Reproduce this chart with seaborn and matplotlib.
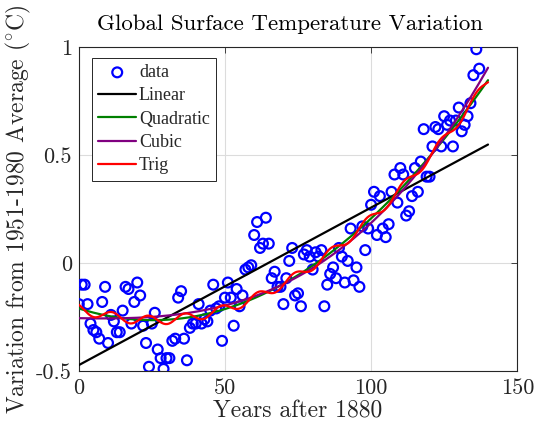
import numpy as np
import pandas as pd
import matplotlib
matplotlib.use("Agg")
import matplotlib.pyplot as plt
import seaborn as sns

# ---- data: years after 1880 and anomaly (deg C, vs 1951-1980 average) ----
years_after_1880 = list(range(0, 138))
anomaly = [
    -0.19, -0.10, -0.10, -0.19, -0.28, -0.31, -0.32, -0.35, -0.18, -0.11,
    -0.37, -0.24, -0.27, -0.32, -0.32, -0.22, -0.11, -0.12, -0.28, -0.18,
    -0.09, -0.15, -0.29, -0.37, -0.48, -0.28, -0.23, -0.40, -0.44, -0.49,
    -0.44, -0.44, -0.36, -0.35, -0.16, -0.13, -0.35, -0.45, -0.30, -0.28,
    -0.28, -0.19, -0.28, -0.26, -0.27, -0.22, -0.10, -0.21, -0.20, -0.36,
    -0.16, -0.09, -0.16, -0.29, -0.12, -0.20, -0.15, -0.03, -0.02, -0.01,
    0.13, 0.19, 0.07, 0.09, 0.21, 0.09, -0.07, -0.04, -0.11, -0.11,
    -0.19, -0.07, 0.01, 0.07, -0.15, -0.14, -0.20, 0.04, 0.06, 0.03,
    -0.03, 0.05, 0.03, 0.06, -0.20, -0.10, -0.05, -0.02, -0.07, 0.07,
    0.03, -0.09, 0.01, 0.16, -0.08, -0.02, -0.11, 0.17, 0.06, 0.16,
    0.27, 0.33, 0.13, 0.31, 0.16, 0.12, 0.18, 0.33, 0.41, 0.28,
    0.44, 0.41, 0.22, 0.24, 0.31, 0.44, 0.33, 0.47, 0.62, 0.40,
    0.40, 0.54, 0.63, 0.62, 0.54, 0.68, 0.64, 0.66, 0.54, 0.66,
    0.72, 0.61, 0.64, 0.68, 0.74, 0.87, 0.99, 0.90,
]
fit_range = [0, 140]
trig_period_range = [10.0, 12.5]   # search window for the trig term (years)
legend_labels = ["data", "Linear", "Quadratic", "Cubic", "Trig"]
x_ticks = [0, 50, 100, 150]
x_tick_labels = ["0", "50", "100", "150"]
y_ticks = [-0.5, 0, 0.5, 1]
y_tick_labels = ["-0.5", "0", "0.5", "1"]

# ---- fits computed from the data ----
x = np.array(years_after_1880, dtype=float)
y = np.array(anomaly, dtype=float)
xf = np.linspace(fit_range[0], fit_range[1], 500)
lin = np.polyval(np.polyfit(x, y, 1), xf)
quad = np.polyval(np.polyfit(x, y, 2), xf)
cub = np.polyval(np.polyfit(x, y, 3), xf)

def trig_basis(t, P):
    w = 2 * np.pi / P
    return np.column_stack([np.ones_like(t), t, t**2, np.sin(w*t), np.cos(w*t)])

best = None
for P in np.arange(trig_period_range[0], trig_period_range[1], 0.02):
    A = trig_basis(x, P)
    c, *_ = np.linalg.lstsq(A, y, rcond=None)
    r = np.sum((A @ c - y) ** 2)
    if best is None or r < best[0]:
        best = (r, P, c)
_, Pbest, cbest = best
trig = trig_basis(xf, Pbest) @ cbest

df_pts = pd.DataFrame({"x": x, "y": y})
df_fit = pd.DataFrame({"x": xf, "lin": lin, "quad": quad, "cub": cub, "trig": trig})

# ---- style ----
sns.set_style("white")
plt.rcParams["font.family"] = ["serif"]
plt.rcParams["font.serif"] = ["cmr10", "DejaVu Serif"]
plt.rcParams["mathtext.fontset"] = "cm"
plt.rcParams["axes.unicode_minus"] = False

fig = plt.figure(figsize=(5.36, 4.28), dpi=100)
ax = fig.add_axes([0.147, 0.133, 0.818, 0.757])

sns.scatterplot(data=df_pts, x="x", y="y", ax=ax, marker="o", s=50,
                facecolors="none", edgecolor=(0, 0, 1), linewidth=1.6,
                label=legend_labels[0], zorder=3)
sns.lineplot(data=df_fit, x="x", y="lin", ax=ax, color="black", lw=1.6,
             label=legend_labels[1], zorder=4)
sns.lineplot(data=df_fit, x="x", y="quad", ax=ax, color=(0, 0.5, 0), lw=1.6,
             label=legend_labels[2], zorder=4)
sns.lineplot(data=df_fit, x="x", y="cub", ax=ax, color=(0.5, 0, 0.5), lw=1.6,
             label=legend_labels[3], zorder=4)
sns.lineplot(data=df_fit, x="x", y="trig", ax=ax, color=(1, 0, 0), lw=1.6,
             label=legend_labels[4], zorder=5)

ax.set_xlim(0, 150)
ax.set_ylim(-0.5, 1)
ax.set_xticks(x_ticks)
ax.set_xticklabels(x_tick_labels)
ax.set_yticks(y_ticks)
ax.set_yticklabels(y_tick_labels)
ax.tick_params(direction="in", length=4, width=0.6, top=True, right=True,
               labelsize=16, colors="#262626", pad=5)
for lbl in ax.get_xticklabels() + ax.get_yticklabels():
    lbl.set_color("#262626")
ax.grid(True, color="#dcdcdc", lw=0.8)
ax.set_axisbelow(True)
for s in ax.spines.values():
    s.set_visible(True)
    s.set_color("#262626")
    s.set_linewidth(0.8)

ax.set_title("Global Surface Temperature Variation", fontsize=16.5, color="black",
             pad=12, x=0.482)
ax.set_xlabel("Years after 1880", fontsize=17, color="#262626", labelpad=2)
ax.set_ylabel(r"Variation from 1951-1980 Average ($^{\circ}$C)", fontsize=17,
              color="#262626", labelpad=2)

leg = ax.legend(loc="upper left", bbox_to_anchor=(0.03, 0.967),
                prop={"family": ["Liberation Serif"], "size": 13},
                frameon=True, fancybox=False, edgecolor="#262626", framealpha=1,
                handlelength=2.1, handletextpad=0.15, borderpad=0.35,
                labelspacing=0.35, borderaxespad=0)
leg.get_frame().set_linewidth(0.7)

fig.savefig("out.png", dpi=100)
